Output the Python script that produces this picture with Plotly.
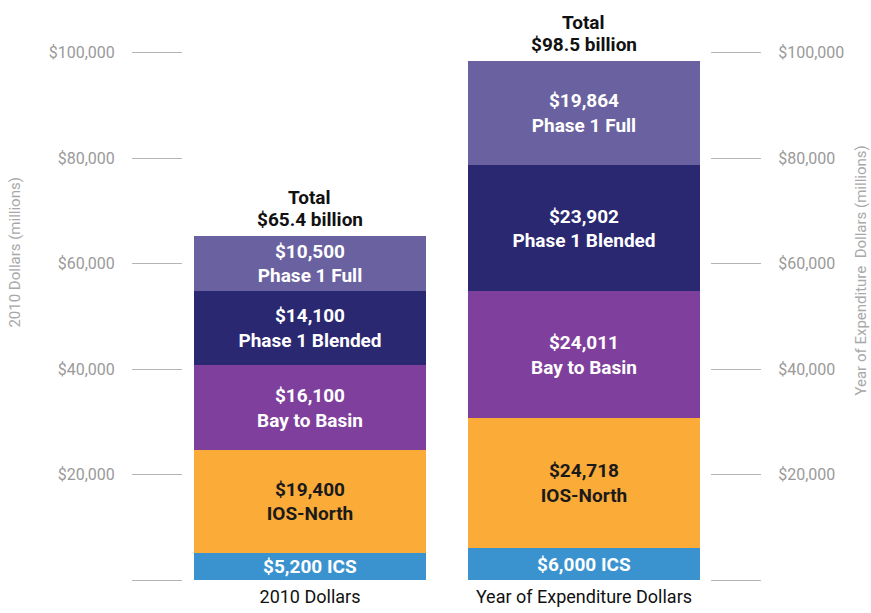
import plotly.graph_objects as go

categories = ["2010 Dollars", "Year of Expenditure Dollars"]

segments = ["ICS", "IOS-North", "Bay to Basin", "Phase 1 Blended", "Phase 1 Full"]
ics = [5200, 6000]
ios_north = [19400, 24718]
bay_to_basin = [16100, 24011]
phase1_blended = [14100, 23902]
phase1_full = [10500, 19864]
totals = ["$65.4 billion", "$98.5 billion"]

tick_vals = [0, 20000, 40000, 60000, 80000, 100000]
tick_text = ["", "$20,000", "$40,000", "$60,000", "$80,000", "$100,000"]

colors = {
    "ICS": "#3a93cf",
    "IOS-North": "#fbab38",
    "Bay to Basin": "#7f3f9d",
    "Phase 1 Blended": "#2a2871",
    "Phase 1 Full": "#6a62a0",
}
text_colors = {
    "ICS": "white",
    "IOS-North": "#1a1a1a",
    "Bay to Basin": "white",
    "Phase 1 Blended": "white",
    "Phase 1 Full": "white",
}

FONT = "Roboto, sans-serif"

series = [ics, ios_north, bay_to_basin, phase1_blended, phase1_full]

fig = go.Figure()
for name, vals in zip(segments, series):
    if name == "ICS":
        labels = [f"<b>${v:,} ICS</b>" for v in vals]
    else:
        labels = [f"<b>${v:,}<br>{name}</b>" for v in vals]
    fig.add_trace(go.Bar(
        x=categories,
        y=vals,
        name=name,
        text=labels,
        textposition="inside",
        insidetextanchor="middle",
        constraintext="none",
        textfont=dict(family=FONT, size=19, color=text_colors[name]),
        marker=dict(color=colors[name], line=dict(width=0)),
        width=0.847,
        hoverinfo="skip",
    ))

# total labels above each stacked bar
for i, (cat, lbl) in enumerate(zip(categories, totals)):
    top = sum(s[i] for s in series)
    fig.add_annotation(
        x=cat, y=top, text=f"<b>{lbl}</b>",
        showarrow=False, yanchor="middle", yshift=16,
        font=dict(family=FONT, size=19, color="#111"),
    )
    fig.add_annotation(
        x=cat, y=top, text="<b>Total</b>",
        showarrow=False, yanchor="middle", yshift=38,
        font=dict(family=FONT, size=19, color="#111"),
    )

# invisible trace for right axis
fig.add_trace(go.Scatter(x=categories, y=[0, 0], yaxis="y2", mode="markers",
                         marker=dict(opacity=0), showlegend=False, hoverinfo="skip"))

axis_style = dict(
    range=[0, 110000],
    tickvals=tick_vals,
    ticktext=tick_text,
    ticks="outside",
    ticklen=50,
    tickcolor="#b5b5b5",
    tickwidth=1,
    ticklabelstandoff=14,
    showgrid=False,
    zeroline=False,
    showline=False,
    tickfont=dict(family=FONT, size=16, color="#9a9a9a"),
)

fig.update_layout(
    barmode="stack",
    width=871,
    height=613,
    margin=dict(l=183, r=161, t=0, b=33),
    plot_bgcolor="white",
    paper_bgcolor="white",
    showlegend=False,
    xaxis=dict(
        range=[-0.4635, 1.46],
        showgrid=False,
        showline=False,
        ticks="",
        ticklabelstandoff=4,
        tickfont=dict(family=FONT, size=18, color="#111"),
    ),
    yaxis=dict(**axis_style),
    yaxis2=dict(**axis_style, overlaying="y", side="right"),
)

fig.add_annotation(
    xref="paper", yref="paper", x=-0.319, y=0.566, xanchor="center",
    text="2010 Dollars (millions)", textangle=-90, showarrow=False,
    font=dict(family=FONT, size=15, color="#a8a8a8"),
)
fig.add_annotation(
    xref="paper", yref="paper", x=1.287, y=0.534, xanchor="center",
    text="Year of Expenditure  Dollars (millions)", textangle=-90, showarrow=False,
    font=dict(family=FONT, size=15, color="#a8a8a8"),
)

fig.write_html("out.html", config={"displayModeBar": False},
               post_script="document.body.style.margin='0';")
